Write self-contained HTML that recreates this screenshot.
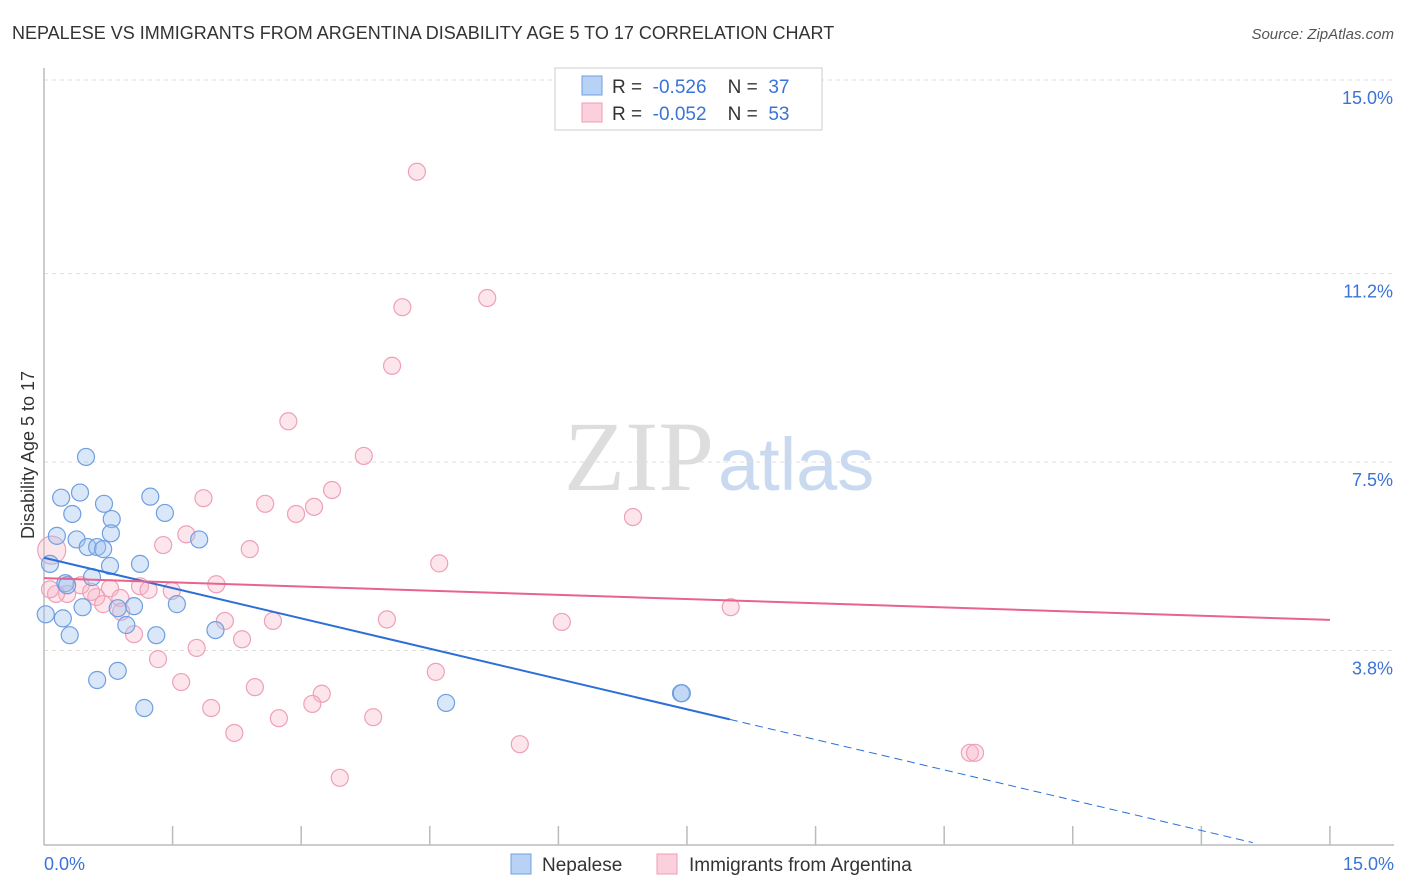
<!DOCTYPE html>
<html><head><meta charset="utf-8"><style>
body{margin:0;background:#fff;font-family:"Liberation Sans",sans-serif;}
svg{display:block}
</style></head><body>
<svg width="1406" height="892" viewBox="0 0 1406 892">
<text x="12" y="39" font-size="18" fill="#333">NEPALESE VS IMMIGRANTS FROM ARGENTINA DISABILITY AGE 5 TO 17 CORRELATION CHART</text>
<text x="1394" y="39" font-size="15" fill="#555" text-anchor="end" font-style="italic">Source: ZipAtlas.com</text>
<text x="714" y="490" font-size="100" fill="#ddd" text-anchor="end" font-family="Liberation Serif">ZIP</text>
<text x="718" y="490" font-size="74" fill="#c9daf0">atlas</text>
<g id="grid"></g>
<g id="axes"></g>
<g id="marks"></g>
<text transform="translate(34,455) rotate(-90)" font-size="18" fill="#333" text-anchor="middle">Disability Age 5 to 17</text>
<text x="44" y="870" font-size="18" fill="#3b73d6">0.0%</text>
<text x="1394" y="870" font-size="18" fill="#3b73d6" text-anchor="end">15.0%</text>
<g>
<rect x="555" y="68" width="267" height="62" fill="#fff" stroke="#ccc"/>
<rect x="582" y="76" width="20" height="19" fill="#b8d2f5" stroke="#6f9fe0"/>
<rect x="582" y="103" width="20" height="19" fill="#fbcfdc" stroke="#ee9cb6"/>
<text x="612" y="93" font-size="19" fill="#333" xml:space="preserve">R =  <tspan fill="#3b73d6">-0.526</tspan>    N =  <tspan fill="#3b73d6">37</tspan></text>
<text x="612" y="120" font-size="19" fill="#333" xml:space="preserve">R =  <tspan fill="#3b73d6">-0.052</tspan>    N =  <tspan fill="#3b73d6">53</tspan></text>
</g>
<g>
<rect x="511" y="854" width="20" height="20" fill="#b8d2f5" stroke="#6f9fe0"/>
<text x="542" y="871" font-size="19" fill="#333">Nepalese</text>
<rect x="657" y="854" width="20" height="20" fill="#fbcfdc" stroke="#ee9cb6"/>
<text x="689" y="871" font-size="19" fill="#333">Immigrants from Argentina</text>
</g>
</svg>
<script>
const yTicks=[3.8,7.5,11.2,15.0];
const yTickLabels=["3.8%","7.5%","11.2%","15.0%"];
const nepX=[0.49,0.2,0.42,1.24,0.7,0.33,1.41,0.79,0.15,0.78,1.81,0.38,0.51,0.62,0.69,1.12,0.77,0.07,0.56,0.25,0.27,1.55,1.05,0.86,0.45,0.02,0.22,0.96,0.3,1.31,2.0,0.86,0.62,1.17,4.69,7.43,7.44];
const nepY=[7.6,6.8,6.9,6.82,6.68,6.48,6.5,6.38,6.05,6.1,5.98,5.98,5.83,5.83,5.79,5.5,5.46,5.5,5.24,5.12,5.08,4.71,4.67,4.63,4.65,4.51,4.43,4.3,4.1,4.1,4.2,3.4,3.22,2.67,2.77,2.96,2.96];
const argX=[4.35,5.17,4.18,4.06,2.85,3.73,3.36,1.86,2.58,3.15,2.94,6.87,1.66,1.39,2.4,4.61,0.09,2.01,1.12,0.77,0.43,0.27,1.22,1.49,0.61,0.89,0.69,8.01,4.0,2.67,2.11,6.04,1.05,2.31,1.78,1.33,4.57,1.6,2.46,3.24,3.13,1.95,3.84,2.74,2.22,5.55,10.8,10.86,3.45,0.14,0.55,0.9,0.07];
const argY=[13.2,10.72,10.54,9.39,8.3,7.62,6.95,6.79,6.68,6.62,6.48,6.42,6.08,5.87,5.79,5.51,5.77,5.1,5.06,5.02,5.08,4.91,4.99,4.97,4.85,4.83,4.71,4.65,4.41,4.38,4.38,4.36,4.12,4.02,3.85,3.63,3.38,3.18,3.08,2.95,2.75,2.67,2.49,2.47,2.18,1.96,1.79,1.79,1.3,4.91,4.95,4.56,5.0];
const nepLine=[5.62,-0.33];
const argLine=[5.22,4.40];
const X=v=>44+v*85.73, Y=v=>844-v*50.93;
const NS="http://www.w3.org/2000/svg";
function mk(t,a,p){const e=document.createElementNS(NS,t);for(const k in a)e.setAttribute(k,a[k]);p.appendChild(e);return e;}
const grid=document.getElementById('grid'),axes=document.getElementById('axes'),marks=document.getElementById('marks');
yTicks.forEach((t,i)=>{
 const l=mk('line',{x1:44,x2:1394,y1:Y(t),y2:Y(t),stroke:'#ddd','stroke-dasharray':'4,4'},grid);
 
 
 const tx=mk('text',{x:1393,y:Y(t)+24,'font-size':18,fill:'#3b73d6','text-anchor':'end'},axes);
 tx.textContent=yTickLabels[i];
 
 
});
const ax=mk('line',{x1:44,x2:44,y1:68,y2:845,stroke:'#bbb','stroke-width':1.5},axes);


const bx=mk('line',{x1:44,x2:1394,y1:845,y2:845,stroke:'#bbb','stroke-width':1.5},axes);


for(let i=1;i<=10;i++){const t=mk('line',{x1:X(i*1.5),x2:X(i*1.5),y1:826,y2:845,stroke:'#bbb','stroke-width':1.5},axes);
 
 }
argX.forEach((x,i)=>{const c=mk('circle',{cx:X(x),cy:Y(argY[i]),r:(i===16?14:8.5),fill:'rgba(248,180,200,0.35)',stroke:'#eea0b8','stroke-width':1.2},marks);
 
 });
nepX.forEach((x,i)=>{const c=mk('circle',{cx:X(x),cy:Y(nepY[i]),r:8.5,fill:'rgba(160,195,240,0.4)',stroke:'#6f9fe0','stroke-width':1.2},marks);
 
 });
const nAt=x=>nepLine[0]+(nepLine[1]-nepLine[0])*x/15;
const l1=mk('line',{x1:X(0),y1:Y(nAt(0)),x2:X(8.0),y2:Y(nAt(8.0)),stroke:'#2c6fd8','stroke-width':2},marks);


const l2=mk('line',{x1:X(8.0),y1:Y(nAt(8.0)),x2:X(14.1),y2:Y(nAt(14.1)),stroke:'#2c6fd8','stroke-width':1,'stroke-dasharray':'8,5'},marks);


const l3=mk('line',{x1:X(0),y1:Y(argLine[0]),x2:X(15),y2:Y(argLine[1]),stroke:'#e8648c','stroke-width':2},marks);


</script>
</body></html>
